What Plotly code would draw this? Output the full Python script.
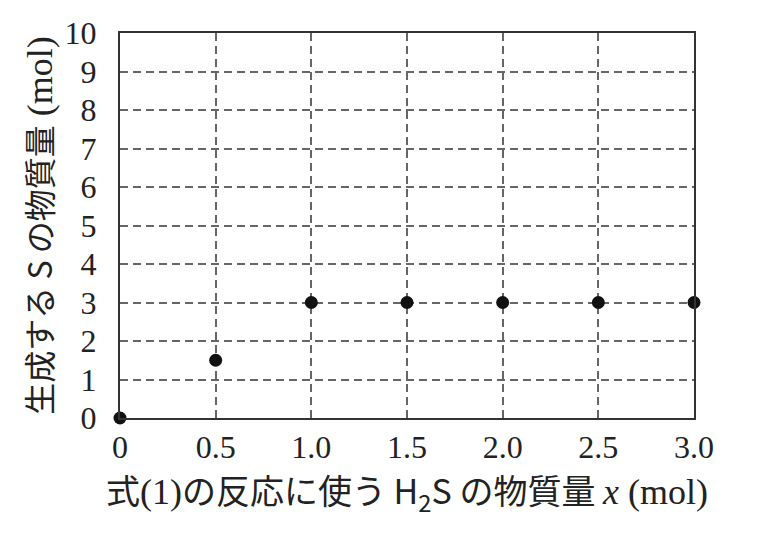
import plotly.graph_objects as go

# data
h2s_mol = [0, 0.5, 1.0, 1.5, 2.0, 2.5, 3.0]
s_mol = [0, 1.5, 3, 3, 3, 3, 3]

x_ticks = [0, 0.5, 1.0, 1.5, 2.0, 2.5, 3.0]
x_tick_labels = ["0", "0.5", "1.0", "1.5", "2.0", "2.5", "3.0"]
y_ticks = list(range(0, 11))

SERIF = "Liberation Serif"
JP = "Noto Sans CJK JP"


def serif(t, size=36):
    return f'<span style="font-family:{SERIF};font-size:{size}px">{t}</span>'


x_title = ("式" + serif("(1)") + "の反応に使う H<sub>2</sub>S の物質量 "
           + serif("<i>x</i> (mol)"))
y_title = "生成する S の物質量" + serif(" (mol)")

fig = go.Figure()
fig.add_trace(go.Scatter(
    x=h2s_mol, y=s_mol, mode="markers",
    marker=dict(color="#111111", size=13),
    cliponaxis=False, showlegend=False,
))

grid = dict(showgrid=True, gridcolor="#666666", gridwidth=1.5, griddash="8px,5px",
            showline=True, linecolor="#333333", linewidth=2, mirror=True,
            zeroline=False, ticks="", automargin=False)

fig.update_xaxes(range=[0, 3], tickvals=x_ticks, ticktext=x_tick_labels,
                 tickfont=dict(family=SERIF, size=32, color="#222222"),
                 ticklabelstandoff=0,
                 title=dict(text=x_title, font=dict(family=JP, size=34, color="#222222"),
                            standoff=5),
                 **grid)
fig.update_yaxes(range=[0, 10], tickvals=y_ticks,
                 tickfont=dict(family=SERIF, size=32, color="#222222"),
                 ticklabelstandoff=15,
                 title=dict(text=y_title, font=dict(family=JP, size=32, color="#222222"),
                            standoff=2),
                 **grid)

# the page body adds an 8px offset, so margins are shifted by that much
fig.update_layout(
    width=761, height=536,
    margin=dict(l=112, r=75, t=25, b=126),
    paper_bgcolor="white", plot_bgcolor="white",
)

fig.write_html("out.html")
